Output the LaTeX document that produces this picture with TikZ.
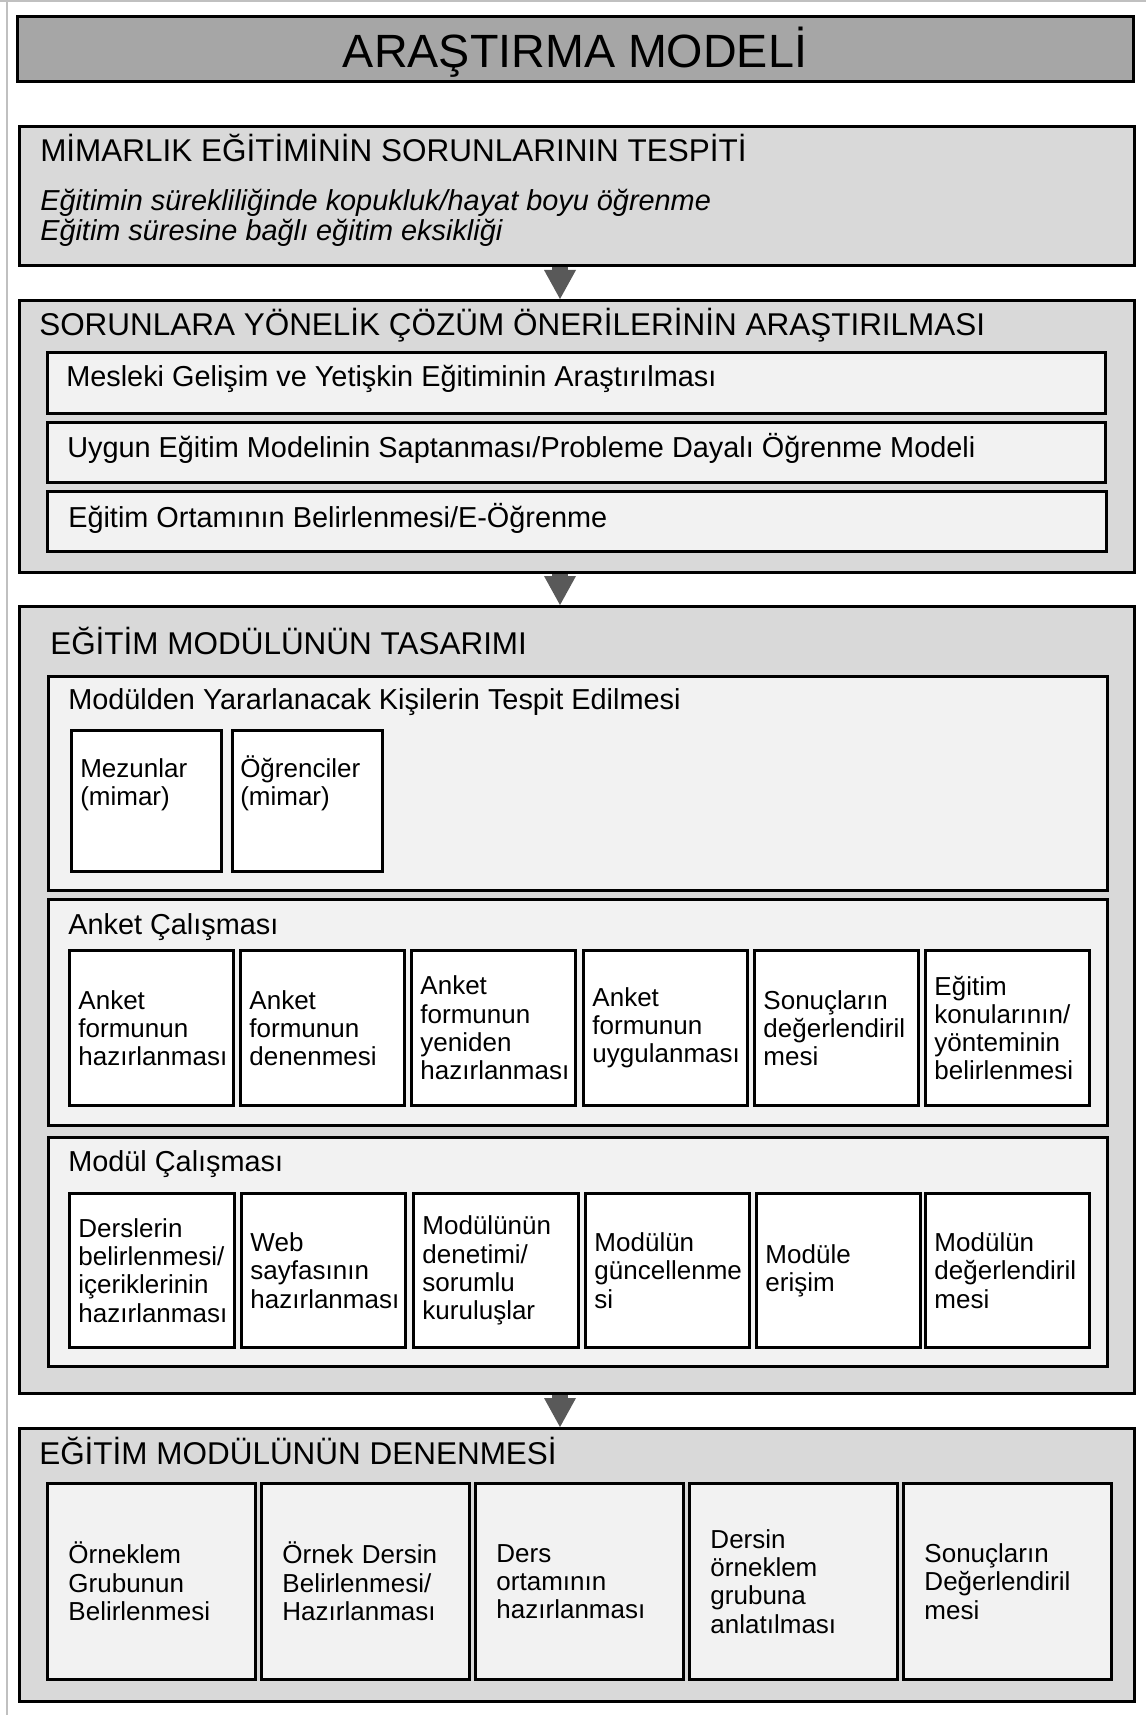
\documentclass[tikz,border=0pt]{standalone}
\usepackage{fontspec}
\setmainfont{Liberation Sans}
\usetikzlibrary{arrows.meta}
\hyphenpenalty=10000
\exhyphenpenalty=10000
\definecolor{titlefill}{HTML}{A6A6A6}
\definecolor{outerfill}{HTML}{D9D9D9}
\definecolor{innerfill}{HTML}{F2F2F2}
\definecolor{arrowgray}{HTML}{595959}
\definecolor{framegray}{HTML}{C0C0C0}
\newcommand\titlefont{\fontsize{35pt}{40pt}\selectfont}
\newcommand\headfont{\fontsize{23.6pt}{28pt}\selectfont}
\newcommand\subfont{\fontsize{21.65pt}{27pt}\selectfont}
\newcommand\boxfont{\fontsize{19.5pt}{21.2pt}\selectfont}
\newcommand\rbox[6]{%
  \pgfmathsetmacro\bw{(#5-#3)*0.75}%
  \pgfmathsetmacro\bh{(#6-#4)*0.75}%
  \node[#1, anchor=north west, inner sep=0pt, minimum width=\bw pt, minimum height=\bh pt] (#2) at (#3,#4) {};}
\newcommand\tbox[8]{%
  \pgfmathsetmacro\bw{(#5-#3)*0.75}%
  \pgfmathsetmacro\bh{(#6-#4)*0.75}%
  \pgfmathsetmacro\tw{(#5-#3-2*#7)*0.75}%
  \pgfmathsetmacro\ps{#7*0.75}%
  \node[#1, anchor=north west, inner xsep=\ps pt, inner ysep=0pt, text width=\tw pt, align=left, minimum width=\bw pt, minimum height=\bh pt] (#2) at (#3,#4) {#8};}
\tikzset{
  titlebox/.style={draw=black, line width=2.2pt, fill=titlefill},
  outerbox/.style={draw=black, line width=2.2pt, fill=outerfill},
  innerbox/.style={draw=black, line width=2.2pt, fill=innerfill},
  whitebox/.style={draw=black, line width=2.2pt, fill=white, font=\boxfont},
  lightbox/.style={draw=black, line width=2.2pt, fill=innerfill, font=\boxfont},
  headtext/.style={anchor=base west, inner sep=0pt, font=\headfont},
  subtext/.style={anchor=base west, inner sep=0pt, font=\subfont},
  boxtext/.style={anchor=base west, inner sep=0pt, font=\boxfont},
  flowarrow/.style={draw=arrowgray, line width=12pt, -{Triangle[length=21.75pt,width=24pt,line width=0pt]}},
}
\begin{document}
\begin{tikzpicture}[x=0.75pt,y=-0.75pt]
\useasboundingbox (0,0) rectangle (1146,1715);
\fill[white] (0,0) rectangle (1146,1715);
\draw[framegray, line width=1.5pt] (0,1.5) -- (1146,1.5);
\draw[framegray, line width=1.5pt] (7,0) -- (7,1715);

% title
\rbox{titlebox}{title}{16}{15}{1132}{80}
\node[anchor=base, inner sep=0pt, font=\titlefont] (titletext) at (575,68) {ARAŞTIRMA MODELİ};

% box 1
\rbox{outerbox}{b1}{18}{125}{1133}{264}
\node[headtext] (h1) at (40,162) {MİMARLIK EĞİTİMİNİN SORUNLARININ TESPİTİ};
\node[subtext, font=\subfont\itshape] (i1) at (40,211) {Eğitimin sürekliliğinde kopukluk/hayat boyu öğrenme};
\node[subtext, font=\subfont\itshape] (i2) at (40,241) {Eğitim süresine bağlı eğitim eksikliği};

% box 2
\rbox{outerbox}{b2}{18}{299}{1133}{571}
\node[headtext] (h2) at (39,336) {SORUNLARA YÖNELİK ÇÖZÜM ÖNERİLERİNİN ARAŞTIRILMASI};
\rbox{innerbox}{s1}{46}{351}{1104}{412}
\node[subtext] (s1t) at (66,387) {Mesleki Gelişim ve Yetişkin Eğitiminin Araştırılması};
\rbox{innerbox}{s2}{46}{421}{1104}{481}
\node[subtext] (s2t) at (67,457) {Uygun Eğitim Modelinin Saptanması/Probleme Dayalı Öğrenme Modeli};
\rbox{innerbox}{s3}{46}{490}{1105}{550}
\node[subtext] (s3t) at (68,527) {Eğitim Ortamının Belirlenmesi/E-Öğrenme};

% box 3
\rbox{outerbox}{b3}{18}{605}{1133}{1392}
\node[headtext] (h3) at (50,654) {EĞİTİM MODÜLÜNÜN TASARIMI};

\rbox{innerbox}{sA}{47}{675}{1106}{889}
\node[subtext] (sAt) at (68,709) {Modülden Yararlanacak Kişilerin Tespit Edilmesi};
\rbox{whitebox}{mez}{70}{729}{220}{870}
\node[boxtext] (mezt) at (80,777) {\begin{tabular}[t]{@{}l@{}}Mezunlar\\(mimar)\end{tabular}};
\rbox{whitebox}{ogr}{231}{729}{381}{870}
\node[boxtext] (ogrt) at (240,777) {\begin{tabular}[t]{@{}l@{}}Öğrenciler\\(mimar)\end{tabular}};

\rbox{innerbox}{sB}{47}{898}{1106}{1124}
\node[subtext] (sBt) at (68,934) {Anket Çalışması};
\tbox{whitebox}{a1}{68}{949}{232}{1104}{9}{Anket\\formunun\\hazırlanması}
\tbox{whitebox}{a2}{239}{949}{403}{1104}{9}{Anket\\formunun\\denenmesi}
\tbox{whitebox}{a3}{410}{949}{574}{1104}{9}{Anket\\formunun\\yeniden\\hazırlanması}
\tbox{whitebox}{a4}{582}{949}{746}{1104}{9}{Anket\\formunun\\uygulanması}
\tbox{whitebox}{a5}{753}{949}{917}{1104}{9}{Sonuçların\\değerlendiril\\mesi}
\tbox{whitebox}{a6}{924}{949}{1088}{1104}{9}{Eğitim\\konularının/\\yönteminin\\belirlenmesi}

\rbox{innerbox}{sC}{47}{1136}{1106}{1365}
\node[subtext] (sCt) at (68,1171) {Modül Çalışması};
\tbox{whitebox}{m1}{68}{1192}{233}{1346}{9}{Derslerin\\belirlenmesi/\\içeriklerinin\\hazırlanması}
\tbox{whitebox}{m2}{240}{1192}{404}{1346}{9}{Web\\sayfasının\\hazırlanması}
\tbox{whitebox}{m3}{412}{1192}{577}{1346}{9}{Modülünün\\denetimi/\\sorumlu\\kuruluşlar}
\tbox{whitebox}{m4}{584}{1192}{748}{1346}{9}{Modülün\\güncellenme\\si}
\tbox{whitebox}{m5}{755}{1192}{919}{1346}{9}{Modüle\\erişim}
\tbox{whitebox}{m6}{924}{1192}{1088}{1346}{9}{Modülün\\değerlendiril\\mesi}

% box 4
\rbox{outerbox}{b4}{18}{1427}{1133}{1700}
\node[headtext] (h4) at (39,1464) {EĞİTİM MODÜLÜNÜN DENENMESİ};
\tbox{lightbox}{d1}{46}{1482}{254}{1678}{21}{Örneklem\\Grubunun\\Belirlenmesi}
\tbox{lightbox}{d2}{260}{1482}{468}{1678}{21}{Örnek Dersin\\Belirlenmesi/\\Hazırlanması}
\tbox{lightbox}{d3}{474}{1482}{682}{1678}{21}{Ders\\ortamının\\hazırlanması}
\tbox{lightbox}{d4}{688}{1482}{896}{1678}{21}{Dersin\\örneklem\\grubuna\\anlatılması}
\tbox{lightbox}{d5}{902}{1482}{1110}{1678}{21}{Sonuçların\\Değerlendiril\\mesi}

% arrows
\coordinate (ax) at (560,0);
\draw[flowarrow] (b1.south -| ax) -- (b2.north -| ax);
\draw[flowarrow] (b2.south -| ax) -- (b3.north -| ax);
\draw[flowarrow] (b3.south -| ax) -- (b4.north -| ax);
\end{tikzpicture}
\end{document}
